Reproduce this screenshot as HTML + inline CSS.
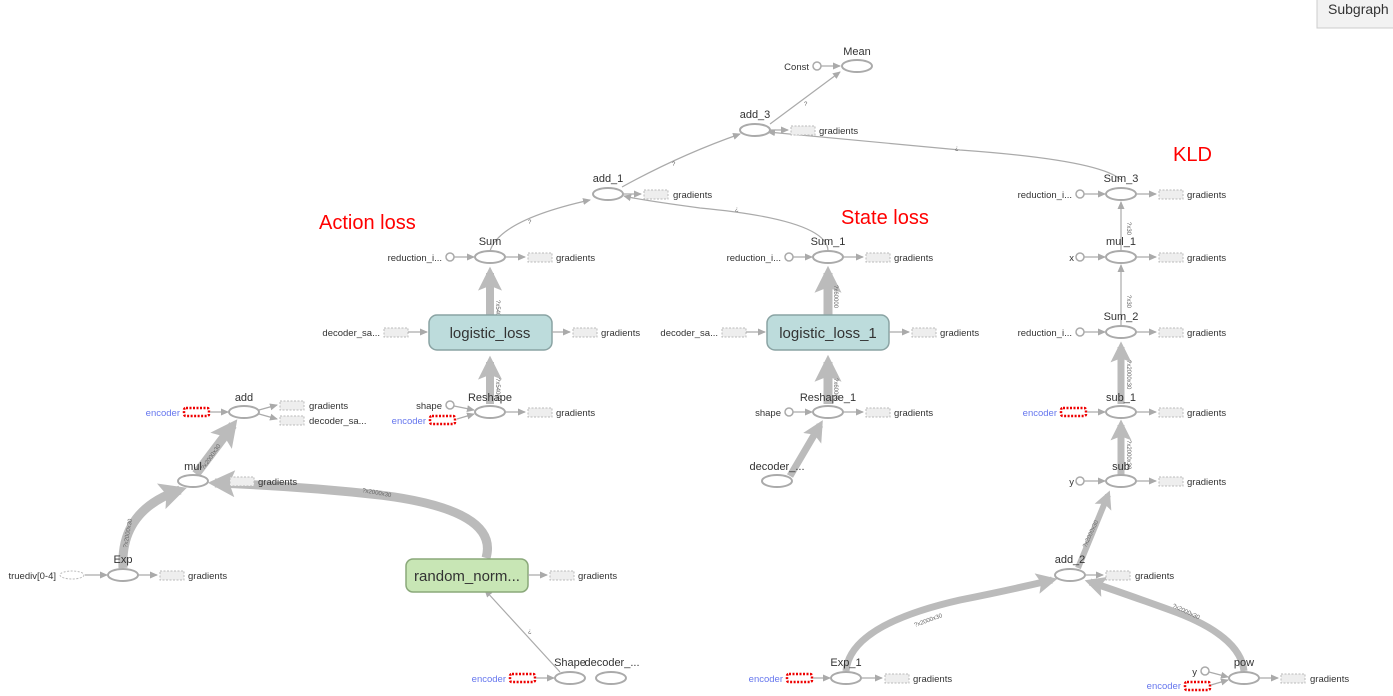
<!DOCTYPE html>
<html><head><meta charset="utf-8">
<style>
html,body{margin:0;padding:0;background:#fff;width:1393px;height:696px;overflow:hidden;font-family:"Liberation Sans",sans-serif}
svg{position:absolute;left:0;top:0}
.n{fill:#fff;stroke:#aaa;stroke-width:2}
.t{font-size:11px;fill:#333;text-anchor:middle}
.s{font-size:9.5px;fill:#333}
.r{text-anchor:end}
.b{fill:#eee;stroke:#bbb;stroke-dasharray:2 1.5;stroke-width:1}
.rb{fill:#fff;stroke:#e00;stroke-width:2.5;stroke-dasharray:2 1.5}
.e{fill:none;stroke:#aaa;stroke-width:1.2}
.k{fill:none;stroke:#bbb}
.c{fill:#fff;stroke:#aaa;stroke-width:1.5}
.enc{fill:#6677ee;font-size:9.5px;text-anchor:end}
.lab{fill:#f00;font-size:20px}
.tiny{font-size:6px;fill:#666}
</style></head><body>
<svg width="1393" height="696" viewBox="0 0 1393 696">
<defs>
<marker id="a" markerWidth="8" markerHeight="8" refX="7" refY="4" orient="auto" markerUnits="userSpaceOnUse"><path d="M0,0.5 L8,4 L0,7.5z" fill="#aaa"/></marker>
<marker id="A" markerWidth="3" markerHeight="3" refX="2.2" refY="1.5" orient="auto" markerUnits="strokeWidth"><path d="M0,0 L3,1.5 L0,3 L0.6,1.5z" fill="#bbb"/></marker>
</defs>

<rect x="1317" y="-2" width="80" height="30" fill="#f2f2f2" stroke="#ccc"/>
<text x="1328" y="14" font-size="14" fill="#333">Subgraph</text>

<text class="lab" x="319" y="229">Action loss</text>
<text class="lab" x="841" y="224">State loss</text>
<text class="lab" x="1173" y="161">KLD</text>

<path class="e" d="M770,124 L840,72" marker-end="url(#a)"/>
<path class="e" d="M622,187 Q680,155 740,134" marker-end="url(#a)"/>
<path class="e" d="M1121,180 Q1100,160 960,150 Q850,140 768,132" marker-end="url(#a)"/>
<path class="e" d="M490,251 Q500,220 590,200" marker-end="url(#a)"/>
<path class="e" d="M828,251 Q828,220 700,208 Q640,200 624,196" marker-end="url(#a)"/>
<path class="e" d="M1121,251 L1121,202" marker-end="url(#a)"/>
<path class="e" d="M1121,326 L1121,265" marker-end="url(#a)"/>
<path class="e" d="M560,672 L485,590" marker-end="url(#a)"/>

<path class="k" stroke-width="8" d="M490,404 L490,362" marker-end="url(#A)"/>
<path class="k" stroke-width="8" d="M490,315 L490,273" marker-end="url(#A)"/>
<path class="k" stroke-width="9" d="M828,404 L828,362" marker-end="url(#A)"/>
<path class="k" stroke-width="9" d="M828,315 L828,273" marker-end="url(#A)"/>
<path class="k" stroke-width="7" d="M790,476 L820,425" marker-end="url(#A)"/>
<path class="k" stroke-width="7" d="M1121,404 L1121,347" marker-end="url(#A)"/>
<path class="k" stroke-width="7" d="M1121,475 L1121,425" marker-end="url(#A)"/>
<path class="k" stroke-width="6" d="M1078,568 L1108,495" marker-end="url(#A)"/>
<path class="k" stroke-width="7" d="M846,671 Q850,625 960,600 Q1010,590 1052,580" marker-end="url(#A)"/>
<path class="k" stroke-width="7" d="M1244,671 Q1240,635 1170,610 Q1120,592 1090,582" marker-end="url(#A)"/>
<path class="k" stroke-width="9" d="M123,568 Q120,510 180,490" marker-end="url(#A)"/>
<path class="k" stroke-width="9" d="M196,474 L233,425" marker-end="url(#A)"/>
<path class="k" stroke-width="9" d="M486,558 Q500,510 380,495 Q300,486 215,483" marker-end="url(#A)"/>

<text class="tiny" transform="translate(496,300) rotate(90)">?x54000</text>
<text class="tiny" transform="translate(496,378) rotate(90)">?x54000</text>
<text class="tiny" transform="translate(834,285) rotate(90)">?x60000</text>
<text class="tiny" transform="translate(834,378) rotate(90)">?x60000</text>
<text class="tiny" transform="translate(1127,222) rotate(90)">?x30</text>
<text class="tiny" transform="translate(1127,295) rotate(90)">?x30</text>
<text class="tiny" transform="translate(1127,360) rotate(90)">?x2000x30</text>
<text class="tiny" transform="translate(1127,440) rotate(90)">?x2000x30</text>
<text class="tiny" transform="translate(1086,548) rotate(-65)">?x2000x30</text>
<text class="tiny" transform="translate(915,627) rotate(-20)">?x2000x30</text>
<text class="tiny" transform="translate(1172,607) rotate(25)">?x2000x30</text>
<text class="tiny" transform="translate(127,548) rotate(-80)">?x2000x30</text>
<text class="tiny" transform="translate(204,470) rotate(-55)">?x2000x30</text>
<text class="tiny" transform="translate(362,492) rotate(10)">?x2000x30</text>
<text class="tiny" x="804" y="106">?</text>
<text class="tiny" x="672" y="166">?</text>
<text class="tiny" x="528" y="224">?</text>
<text class="tiny" x="735" y="211">¿</text>
<text class="tiny" x="955" y="150">¿</text>
<text class="tiny" x="528" y="633">¿</text>

<text class="t" x="857" y="55">Mean</text>
<ellipse class="n" cx="857" cy="66" rx="15" ry="6"/>
<text class="s r" x="809" y="70">Const</text>
<circle class="c" cx="817" cy="66" r="4"/>
<path class="e" d="M821,66 L840,66" marker-end="url(#a)"/>

<text class="t" x="755" y="118">add_3</text>
<ellipse class="n" cx="755" cy="130" rx="15" ry="6"/>
<path class="e" d="M770,130 L788,130" marker-end="url(#a)"/>
<rect class="b" x="791" y="126" width="24" height="9"/>
<text class="s" x="819" y="134">gradients</text>

<text class="t" x="608" y="182">add_1</text>
<ellipse class="n" cx="608" cy="194" rx="15" ry="6"/>
<path class="e" d="M623,194 L641,194" marker-end="url(#a)"/>
<rect class="b" x="644" y="190" width="24" height="9"/>
<text class="s" x="673" y="198">gradients</text>

<text class="t" x="490" y="245">Sum</text>
<ellipse class="n" cx="490" cy="257" rx="15" ry="6"/>
<text class="s r" x="442" y="261">reduction_i...</text>
<circle class="c" cx="450" cy="257" r="4"/>
<path class="e" d="M454,257 L474,257" marker-end="url(#a)"/>
<path class="e" d="M505,257 L525,257" marker-end="url(#a)"/>
<rect class="b" x="528" y="253" width="24" height="9"/>
<text class="s" x="556" y="261">gradients</text>

<rect x="429" y="315" width="123" height="35" rx="8" fill="#bddcdc" stroke="#8aa3a3" stroke-width="1.5"/>
<text x="490" y="338" font-size="15" fill="#333" text-anchor="middle">logistic_loss</text>
<text class="s r" x="380" y="336">decoder_sa...</text>
<rect class="b" x="384" y="328" width="24" height="9"/>
<path class="e" d="M408,332 L427,332" marker-end="url(#a)"/>
<path class="e" d="M552,332 L570,332" marker-end="url(#a)"/>
<rect class="b" x="573" y="328" width="24" height="9"/>
<text class="s" x="601" y="336">gradients</text>

<text class="t" x="490" y="401">Reshape</text>
<ellipse class="n" cx="490" cy="412" rx="15" ry="6"/>
<text class="s r" x="442" y="409">shape</text>
<circle class="c" cx="450" cy="405" r="4"/>
<path class="e" d="M454,406 L474,410" marker-end="url(#a)"/>
<text class="enc" x="426" y="424">encoder</text>
<rect class="rb" x="430" y="416" width="25" height="8" rx="2"/>
<path class="e" d="M457,419 L474,414" marker-end="url(#a)"/>
<path class="e" d="M505,412 L525,412" marker-end="url(#a)"/>
<rect class="b" x="528" y="408" width="24" height="9"/>
<text class="s" x="556" y="416">gradients</text>

<text class="t" x="828" y="245">Sum_1</text>
<ellipse class="n" cx="828" cy="257" rx="15" ry="6"/>
<text class="s r" x="781" y="261">reduction_i...</text>
<circle class="c" cx="789" cy="257" r="4"/>
<path class="e" d="M793,257 L812,257" marker-end="url(#a)"/>
<path class="e" d="M843,257 L863,257" marker-end="url(#a)"/>
<rect class="b" x="866" y="253" width="24" height="9"/>
<text class="s" x="894" y="261">gradients</text>

<rect x="767" y="315" width="122" height="35" rx="8" fill="#bddcdc" stroke="#8aa3a3" stroke-width="1.5"/>
<text x="828" y="338" font-size="15" fill="#333" text-anchor="middle">logistic_loss_1</text>
<text class="s r" x="718" y="336">decoder_sa...</text>
<rect class="b" x="722" y="328" width="24" height="9"/>
<path class="e" d="M746,332 L765,332" marker-end="url(#a)"/>
<path class="e" d="M889,332 L909,332" marker-end="url(#a)"/>
<rect class="b" x="912" y="328" width="24" height="9"/>
<text class="s" x="940" y="336">gradients</text>

<text class="t" x="828" y="401">Reshape_1</text>
<ellipse class="n" cx="828" cy="412" rx="15" ry="6"/>
<text class="s r" x="781" y="416">shape</text>
<circle class="c" cx="789" cy="412" r="4"/>
<path class="e" d="M793,412 L812,412" marker-end="url(#a)"/>
<path class="e" d="M843,412 L863,412" marker-end="url(#a)"/>
<rect class="b" x="866" y="408" width="24" height="9"/>
<text class="s" x="894" y="416">gradients</text>

<text class="t" x="777" y="470">decoder_...</text>
<ellipse class="n" cx="777" cy="481" rx="15" ry="6"/>

<text class="t" x="1121" y="182">Sum_3</text>
<ellipse class="n" cx="1121" cy="194" rx="15" ry="6"/>
<text class="s r" x="1072" y="198">reduction_i...</text>
<circle class="c" cx="1080" cy="194" r="4"/>
<path class="e" d="M1084,194 L1105,194" marker-end="url(#a)"/>
<path class="e" d="M1136,194 L1156,194" marker-end="url(#a)"/>
<rect class="b" x="1159" y="190" width="24" height="9"/>
<text class="s" x="1187" y="198">gradients</text>

<text class="t" x="1121" y="245">mul_1</text>
<ellipse class="n" cx="1121" cy="257" rx="15" ry="6"/>
<text class="s r" x="1074" y="261">x</text>
<circle class="c" cx="1080" cy="257" r="4"/>
<path class="e" d="M1084,257 L1105,257" marker-end="url(#a)"/>
<path class="e" d="M1136,257 L1156,257" marker-end="url(#a)"/>
<rect class="b" x="1159" y="253" width="24" height="9"/>
<text class="s" x="1187" y="261">gradients</text>

<text class="t" x="1121" y="320">Sum_2</text>
<ellipse class="n" cx="1121" cy="332" rx="15" ry="6"/>
<text class="s r" x="1072" y="336">reduction_i...</text>
<circle class="c" cx="1080" cy="332" r="4"/>
<path class="e" d="M1084,332 L1105,332" marker-end="url(#a)"/>
<path class="e" d="M1136,332 L1156,332" marker-end="url(#a)"/>
<rect class="b" x="1159" y="328" width="24" height="9"/>
<text class="s" x="1187" y="336">gradients</text>

<text class="t" x="1121" y="401">sub_1</text>
<ellipse class="n" cx="1121" cy="412" rx="15" ry="6"/>
<text class="enc" x="1057" y="416">encoder</text>
<rect class="rb" x="1061" y="408" width="25" height="8" rx="2"/>
<path class="e" d="M1087,412 L1105,412" marker-end="url(#a)"/>
<path class="e" d="M1136,412 L1156,412" marker-end="url(#a)"/>
<rect class="b" x="1159" y="408" width="24" height="9"/>
<text class="s" x="1187" y="416">gradients</text>

<text class="t" x="1121" y="470">sub</text>
<ellipse class="n" cx="1121" cy="481" rx="15" ry="6"/>
<text class="s r" x="1074" y="485">y</text>
<circle class="c" cx="1080" cy="481" r="4"/>
<path class="e" d="M1084,481 L1105,481" marker-end="url(#a)"/>
<path class="e" d="M1136,481 L1156,481" marker-end="url(#a)"/>
<rect class="b" x="1159" y="477" width="24" height="9"/>
<text class="s" x="1187" y="485">gradients</text>

<text class="t" x="1070" y="563">add_2</text>
<ellipse class="n" cx="1070" cy="575" rx="15" ry="6"/>
<path class="e" d="M1085,575 L1103,575" marker-end="url(#a)"/>
<rect class="b" x="1106" y="571" width="24" height="9"/>
<text class="s" x="1135" y="579">gradients</text>

<text class="t" x="846" y="666">Exp_1</text>
<ellipse class="n" cx="846" cy="678" rx="15" ry="6"/>
<text class="enc" x="783" y="682">encoder</text>
<rect class="rb" x="787" y="674" width="25" height="8" rx="2"/>
<path class="e" d="M813,678 L830,678" marker-end="url(#a)"/>
<path class="e" d="M861,678 L882,678" marker-end="url(#a)"/>
<rect class="b" x="885" y="674" width="24" height="9"/>
<text class="s" x="913" y="682">gradients</text>

<text class="t" x="1244" y="666">pow</text>
<ellipse class="n" cx="1244" cy="678" rx="15" ry="6"/>
<text class="s r" x="1197" y="675">y</text>
<circle class="c" cx="1205" cy="671" r="4"/>
<path class="e" d="M1209,672 L1228,677" marker-end="url(#a)"/>
<text class="enc" x="1181" y="689">encoder</text>
<rect class="rb" x="1185" y="682" width="25" height="8" rx="2"/>
<path class="e" d="M1211,685 L1228,680" marker-end="url(#a)"/>
<path class="e" d="M1259,678 L1278,678" marker-end="url(#a)"/>
<rect class="b" x="1281" y="674" width="24" height="9"/>
<text class="s" x="1310" y="682">gradients</text>

<text class="t" x="244" y="401">add</text>
<ellipse class="n" cx="244" cy="412" rx="15" ry="6"/>
<text class="enc" x="180" y="416">encoder</text>
<rect class="rb" x="184" y="408" width="25" height="8" rx="2"/>
<path class="e" d="M210,412 L228,412" marker-end="url(#a)"/>
<path class="e" d="M259,410 L277,405" marker-end="url(#a)"/>
<path class="e" d="M259,414 L277,419" marker-end="url(#a)"/>
<rect class="b" x="280" y="401" width="24" height="9"/>
<text class="s" x="309" y="409">gradients</text>
<rect class="b" x="280" y="416" width="24" height="9"/>
<text class="s" x="309" y="424">decoder_sa...</text>

<text class="t" x="193" y="470">mul</text>
<ellipse class="n" cx="193" cy="481" rx="15" ry="6"/>
<rect class="b" x="230" y="477" width="24" height="9"/>
<text class="s" x="258" y="485">gradients</text>

<text class="t" x="123" y="563">Exp</text>
<ellipse class="n" cx="123" cy="575" rx="15" ry="6"/>
<text class="s r" x="56" y="579">truediv[0-4]</text>
<ellipse cx="72" cy="575" rx="12" ry="4" fill="#fff" stroke="#bbb" stroke-dasharray="2 1.5"/>
<path class="e" d="M85,575 L107,575" marker-end="url(#a)"/>
<path class="e" d="M138,575 L157,575" marker-end="url(#a)"/>
<rect class="b" x="160" y="571" width="24" height="9"/>
<text class="s" x="188" y="579">gradients</text>

<rect x="406" y="559" width="122" height="33" rx="7" fill="#c8e6b5" stroke="#8aa87a" stroke-width="1.5"/>
<text x="467" y="581" font-size="15" fill="#333" text-anchor="middle">random_norm...</text>
<path class="e" d="M528,575 L547,575" marker-end="url(#a)"/>
<rect class="b" x="550" y="571" width="24" height="9"/>
<text class="s" x="578" y="579">gradients</text>

<text class="t" x="570" y="666">Shape</text>
<ellipse class="n" cx="570" cy="678" rx="15" ry="6"/>
<text class="t" x="612" y="666">decoder_...</text>
<ellipse class="n" cx="611" cy="678" rx="15" ry="6"/>
<text class="enc" x="506" y="682">encoder</text>
<rect class="rb" x="510" y="674" width="25" height="8" rx="2"/>
<path class="e" d="M536,678 L554,678" marker-end="url(#a)"/>
</svg>
</body></html>
